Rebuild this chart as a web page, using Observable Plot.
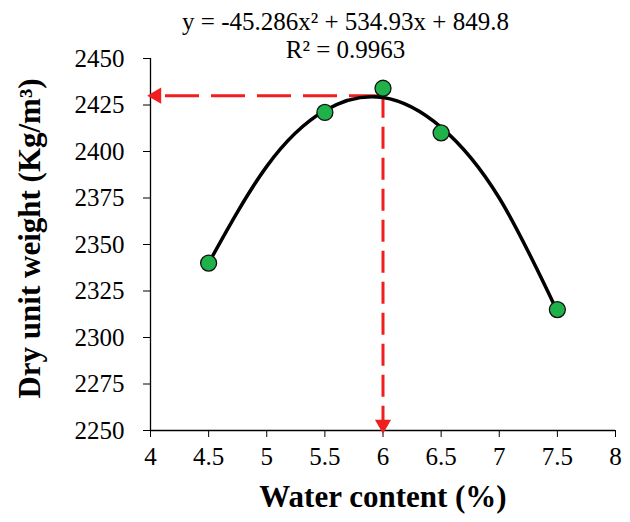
<!DOCTYPE html>
<html><head><meta charset="utf-8">
<script src="https://cdn.jsdelivr.net/npm/d3@7"></script>
<script src="https://cdn.jsdelivr.net/npm/@observablehq/plot@0.6"></script>
<style>body{margin:0;background:#fff}</style></head>
<body><div id="chart"></div>
<script>
const waterContent = [4.5, 5.5, 6, 6.5, 7.5];
const dryUnitWeight = [2340, 2421, 2434, 2410, 2315];
const trendX = [4.5, 5, 5.5, 6, 6.5, 7, 7.5];
const trendY = [2340, 2392, 2422, 2429, 2413, 2375, 2314];
const optimumX = [6];
const optimumY = [2430];
const xTicks = [4, 4.5, 5, 5.5, 6, 6.5, 7, 7.5, 8];
const yTicks = [2250, 2275, 2300, 2325, 2350, 2375, 2400, 2425, 2450];
const equationText = "y = -45.286x² + 534.93x + 849.8";
const r2Text = "R² = 0.9963";
const xLabel = "Water content (%)";
const yLabel = "Dry unit weight (Kg/m³)";

const xDomain = [xTicks[0], xTicks[xTicks.length - 1]];
const yDomain = [yTicks[0], yTicks[yTicks.length - 1]];
const points = waterContent.map((x, i) => ({x, y: dryUnitWeight[i]}));
const trend = trendX.map((x, i) => ({x, y: trendY[i]}));
const opt = {x: optimumX[0], y: optimumY[0]};
const hLink = [{x1: opt.x, y1: opt.y, x2: xDomain[0], y2: opt.y}];
const vLink = [{x1: opt.x, y1: opt.y, x2: opt.x, y2: yDomain[0]}];
const red = "#f01e1e";

const chart = Plot.plot({
  width: 630, height: 522,
  marginLeft: 150, marginRight: 15, marginTop: 58, marginBottom: 92,
  style: {fontFamily: "'Liberation Serif', 'Times New Roman', serif", background: "#fff", color: "#000"},
  x: {domain: xDomain, ticks: xTicks},
  y: {domain: yDomain, ticks: yTicks},
  marks: [
    Plot.axisX({ticks: xTicks, tickSize: 7, tickPadding: 10, fontSize: 25, tickFormat: d => String(d), label: null}),
    Plot.axisY({ticks: yTicks, tickSize: 7, tickPadding: 19, fontSize: 25, tickFormat: d => String(d), label: null}),
    Plot.ruleX([xDomain[0]], {stroke: "#000", strokeWidth: 1.3}),
    Plot.ruleY([yDomain[0]], {stroke: "#000", strokeWidth: 1.3}),
    Plot.link(hLink, {x1: "x1", y1: "y1", x2: "x2", y2: "y2", stroke: red, strokeWidth: 3, strokeDasharray: "34,12"}),
    Plot.link(vLink, {x1: "x1", y1: "y1", x2: "x2", y2: "y2", stroke: red, strokeWidth: 3, strokeDasharray: "22,9"}),
    Plot.dot(hLink, {x: "x2", y: "y2", symbol: "triangle", r: 6, fill: red, stroke: "none", rotate: -90, dx: 6}),
    Plot.dot(vLink, {x: "x2", y: "y2", symbol: "triangle", r: 6, fill: red, stroke: "none", rotate: 180, dy: -6}),
    Plot.line(trend, {x: "x", y: "y", curve: "natural", stroke: "#000", strokeWidth: 3.5}),
    Plot.dot(points, {x: "x", y: "y", r: 8, fill: "#1fb24a", stroke: "#111", strokeWidth: 1.3}),
    Plot.text([equationText], {frameAnchor: "top-left", textAnchor: "middle", dx: 195, dy: -46, fontSize: 25, fill: "#000"}),
    Plot.text([r2Text], {frameAnchor: "top-left", textAnchor: "middle", dx: 195, dy: -18, fontSize: 25, fill: "#000"}),
    Plot.text([xLabel], {frameAnchor: "bottom", dy: 76, fontSize: 31, fontWeight: "bold", fill: "#000"}),
    Plot.text([yLabel], {frameAnchor: "left", textAnchor: "middle", dx: -120, dy: -6, rotate: -90, fontSize: 31, fontWeight: "bold", fill: "#000"})
  ]
});
document.getElementById("chart").append(chart);
</script></body></html>
